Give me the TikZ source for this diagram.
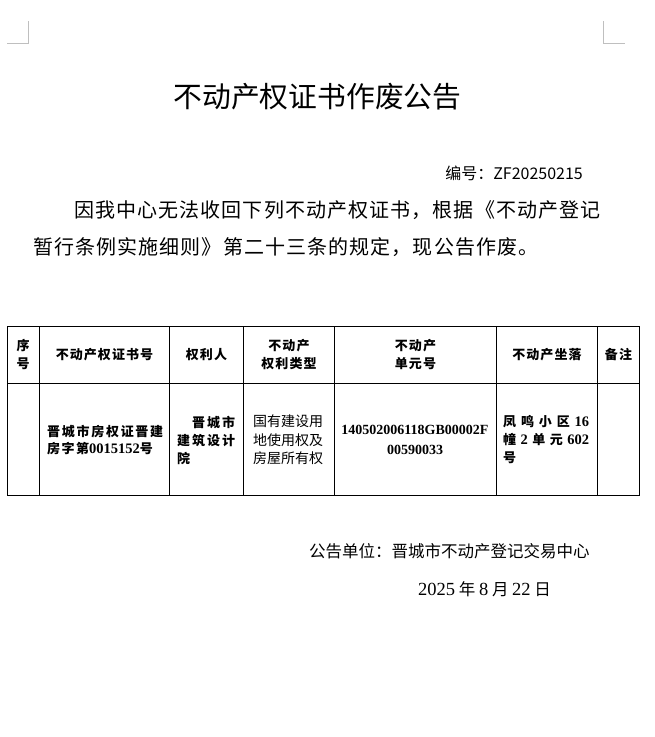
\documentclass[tikz,border=0pt]{standalone}
\usepackage{fontspec}
\setmainfont{Noto Sans CJK SC}
\newfontfamily\ser{Liberation Serif}
\newfontfamily\cjkA{Noto Sans CJK SC}[LetterSpace=5.5]
\newfontfamily\cjkH{Noto Sans CJK SC}[LetterSpace=8]
\newfontfamily\cjkB{Noto Sans CJK SC}[LetterSpace=11.5]
\newfontfamily\cjkC{Noto Sans CJK SC}[LetterSpace=15]
\newcommand\bodyf{\cjkA\fontsize{20pt}{24pt}\selectfont}
\newcommand\hdrf{\cjkH\bfseries\fontsize{13pt}{18.5pt}\selectfont}
\newcommand\numf{\ser\bfseries}
\begin{document}
\begin{tikzpicture}[x=1pt,y=-1pt,
  tline/.style={line width=1pt,draw=black},
  crop/.style={line width=0.9pt,draw=black!25},
  txt/.style={inner sep=0pt,anchor=west},
  hdr/.style={inner sep=0pt,align=center,font=\hdrf},
]
\useasboundingbox (0,0) rectangle (654,737);
\fill[white] (0,0) rectangle (654,737);
% crop marks
\draw[crop] (28,21) -- (28,43) -- (7,43);
\draw[crop] (603,21) -- (603,43) -- (625,43);
% title and text
\node[inner sep=0pt,font=\fontsize{28.8pt}{30pt}\selectfont] (title) at (317.5,97) {不动产权证书作废公告};
\node[inner sep=0pt,anchor=east,font=\fontsize{16pt}{18pt}\selectfont] (num) at (583,173) {编号：ZF20250215};
\node[txt,font=\bodyf] (p1) at (74,210) {因我中心无法收回下列不动产权证书，根据《不动产登记};
\node[txt,font=\bodyf] (p2) at (33,247) {暂行条例实施细则》第二十三条的规定，现公告作废。};
% table
\draw[tline] (7,326) rectangle (639,495);
\draw[tline] (7,383) -- (639,383);
\foreach \x in {39,169,243,334,496,597} \draw[tline] (\x,326) -- (\x,495);
% header
\node[hdr] (h1) at (23,354.5) {序\\号};
\node[hdr] (h2) at (104.5,354.5) {不动产权证书号};
\node[hdr] (h3) at (206.5,354.5) {权利人};
\node[hdr] (h4) at (289,354.5) {不动产\\权利类型};
\node[hdr] (h5) at (415.5,354.5) {不动产\\单元号};
\node[hdr] (h6) at (547,354.5) {不动产坐落};
\node[hdr] (h7) at (618.5,354.5) {备注};
% body row
\node[txt,align=left,font=\cjkB\bfseries\fontsize{13pt}{16.7pt}\selectfont] (c2) at (47,440)
  {\makebox[116pt][s]{晋\hfill 城\hfill 市\hfill 房\hfill 权\hfill 证\hfill 晋\hfill 建}\\房字第{\numf\fontsize{14.5pt}{16.7pt}\selectfont 0015152}号};
\node[txt,align=left,font=\cjkC\bfseries\fontsize{13pt}{18pt}\selectfont] (c3) at (177,440)
  {\hspace*{15pt}晋城市\\建筑设计\\院};
\node[txt,align=left,font=\fontsize{14pt}{18.5pt}\selectfont] (c4) at (253,440)
  {国有建设用\\地使用权及\\房屋所有权};
\node[inner sep=0pt,align=center,font=\numf\fontsize{14pt}{20pt}\selectfont] (c5) at (415,440)
  {140502006118GB00002F\\00590033};
\node[txt,align=left,font=\bfseries\fontsize{13pt}{18pt}\selectfont] (c6) at (503,440)
  {\makebox[86pt][s]{凤\hfill 鸣\hfill 小\hfill 区\hfill{\numf\fontsize{14.5pt}{18pt}\selectfont 16}}\\
   \makebox[86pt][s]{幢\hfill{\numf\fontsize{14.5pt}{18pt}\selectfont 2}\hfill 单\hfill 元\hfill{\numf\fontsize{14.5pt}{18pt}\selectfont 602}}\\号};
% footer
\node[txt,font=\fontsize{16.5pt}{18pt}\selectfont] (unit) at (309,551) {公告单位：晋城市不动产登记交易中心};
\node[txt,font=\fontsize{16.5pt}{18pt}\selectfont] (date) at (418,589)
  {{\ser\fontsize{18.5pt}{18pt}\selectfont 2025} 年 {\ser\fontsize{18.5pt}{18pt}\selectfont 8} 月 {\ser\fontsize{18.5pt}{18pt}\selectfont 22} 日};
\end{tikzpicture}
\end{document}
